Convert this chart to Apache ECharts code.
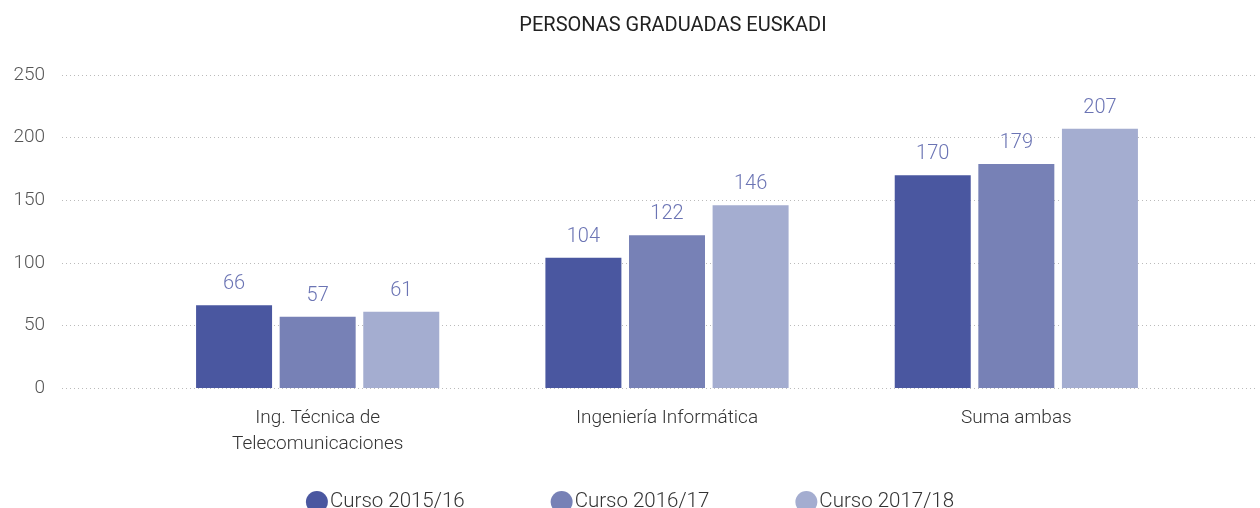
<!DOCTYPE html>
<html><head><meta charset="utf-8">
<script src="https://cdn.jsdelivr.net/npm/echarts@6/dist/echarts.min.js"></script>
<style>html,body{margin:0;padding:0;background:#fff}#c{width:1260px;height:508px}</style>
</head><body><div id="c"></div>
<script>
const title = 'PERSONAS GRADUADAS EUSKADI';
const categories = ['Ing. Técnica de\nTelecomunicaciones', 'Ingeniería Informática', 'Suma ambas'];
const seriesNames = ['Curso 2015/16', 'Curso 2016/17', 'Curso 2017/18'];
const curso1516 = [66, 104, 170];
const curso1617 = [57, 122, 179];
const curso1718 = [61, 146, 207];
const colors = ['#4A57A0', '#7781B6', '#A4ADD0'];
const yMin = 0, yMax = 250, yInterval = 50;

const FONT = 'Roboto';
const chart = echarts.init(document.getElementById('c'), null, {renderer: 'canvas'});
const values = [curso1516, curso1617, curso1718];
const series = seriesNames.map((n, i) => ({
  name: n, type: 'bar', xAxisIndex: 1, yAxisIndex: 1,
  data: values[i], barWidth: 76, barGap: '10%',
  itemStyle: {color: colors[i]},
  label: {show: true, position: 'top', distance: 11, color: '#6B74B4',
    fontFamily: FONT, fontWeight: 300, fontSize: 20}
}));
chart.setOption({
  animation: false,
  color: colors,
  title: {text: title, left: 668, textAlign: 'center', top: 11,
    textStyle: {fontFamily: FONT, fontWeight: 400, fontSize: 20, color: '#222'}},
  legend: {data: seriesNames, left: 'center', top: 486, icon: 'circle', itemWidth: 22, itemHeight: 22,
    itemGap: 86, textStyle: {fontFamily: FONT, fontWeight: 300, fontSize: 20.5, color: '#333', padding: [0,0,0,-3]}},
  grid: [
    {left: 62, right: 2, top: 75, bottom: 120},
    {left: 143, right: 69, top: 75, bottom: 120}
  ],
  xAxis: [
    {type: 'category', gridIndex: 0, data: categories, show: false},
    {type: 'category', gridIndex: 1, data: categories,
      axisLine: {show: false}, axisTick: {show: false},
      axisLabel: {fontFamily: FONT, fontWeight: 300, fontSize: 19, color: '#333', margin: 17, lineHeight: 26, interval: 0}}
  ],
  yAxis: [
    {type: 'value', gridIndex: 0, min: yMin, max: yMax, interval: yInterval,
      axisLine: {show: false}, axisTick: {show: false},
      axisLabel: {fontFamily: FONT, fontWeight: 300, fontSize: 19, color: '#555', margin: 17},
      splitLine: {lineStyle: {type: [1, 3], color: '#bbb', width: 1}}},
    {type: 'value', gridIndex: 1, min: yMin, max: yMax, interval: yInterval, show: false, splitLine: {show: false}}
  ],
  series: series
});
</script></body></html>
